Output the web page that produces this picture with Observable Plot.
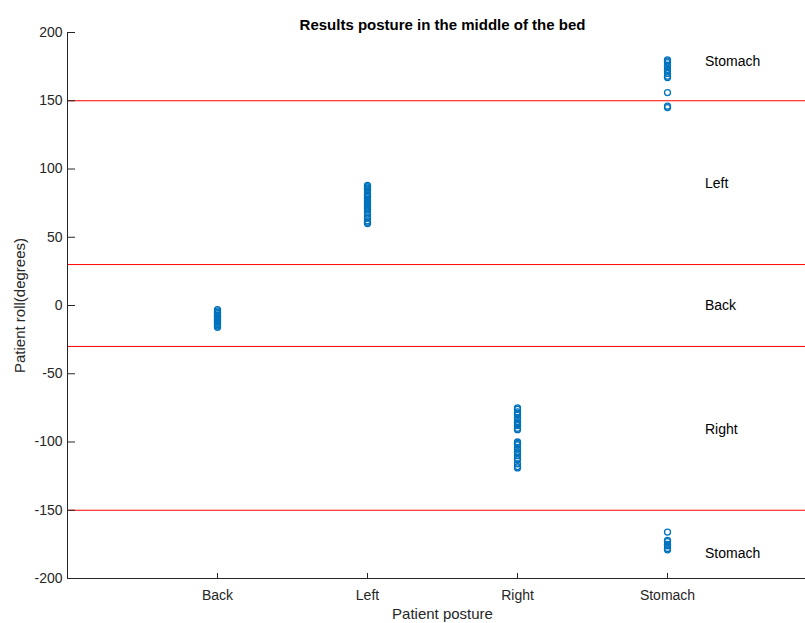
<!DOCTYPE html>
<html>
<head>
<meta charset="utf-8">
<script src="https://cdn.jsdelivr.net/npm/d3@7"></script>
<script src="https://cdn.jsdelivr.net/npm/@observablehq/plot@0.6"></script>
<style>
  html, body { margin: 0; padding: 0; background: #fff; }
</style>
</head>
<body>
<div id="chart"></div>
<script>
// ---- Data ----
const titleText = "Results posture in the middle of the bed";
const xLabel = "Patient posture";
const yLabel = "Patient roll(degrees)";

const categories = ["Back", "Left", "Right", "Stomach"];
const categoryPos = [1, 2, 3, 4];

const backValues = [-3, -4, -5, -5, -6, -7, -8, -8, -9, -10, -10, -11, -12, -12, -13, -14, -15, -16];
const leftValues = [60, 61, 62, 64, 65, 67, 68, 70, 71, 72, 73, 74, 75, 76, 77, 78, 79, 80, 81, 82, 84, 85, 86, 87, 88];
const rightValues = [-75, -76, -78, -79, -80, -82, -83, -85, -86, -87, -88, -90, -91,
                     -100, -101, -102, -104, -105, -107, -108, -110, -112, -113, -116, -118, -119];
const stomachValues = [180, 179, 178, 176, 175, 173, 172, 170, 168, 167, 156, 146, 145,
                       -166, -172, -173, -175, -176, -178, -179];

const thresholds = [150, 30, -30, -150];

const zoneLabels = ["Stomach", "Left", "Back", "Right", "Stomach"];
const zoneValues = [179, 89, 0, -91, -182];

const yTicks = [-200, -150, -100, -50, 0, 50, 100, 150, 200];

// ---- Build table ----
const seriesValues = [backValues, leftValues, rightValues, stomachValues];
const points = [];
seriesValues.forEach((vals, i) => vals.forEach(v => points.push({x: categoryPos[i], y: v})));
const zones = zoneLabels.map((t, i) => ({text: t, y: zoneValues[i]}));

const axisColor = "#262626";

const chart = Plot.plot({
  width: 805,
  height: 623,
  marginLeft: 67,
  marginRight: 0,
  marginTop: 32,
  marginBottom: 45,
  style: {fontFamily: "'Liberation Sans', Arial, sans-serif", fontSize: "14px", color: axisColor, background: "#fff"},
  x: {domain: [0, 4.92]},
  y: {domain: [-200, 200]},
  marks: [
    Plot.ruleY(thresholds, {stroke: "#ff0000", strokeWidth: 1}),
    Plot.dot(points, {x: "x", y: "y", r: 3, stroke: "#0072BD", strokeWidth: 1.3, fill: "none"}),
    Plot.text(zones, {x: 4.25, y: "y", text: "text", textAnchor: "start", fill: "#000", fontSize: 14}),
    // axis lines
    Plot.ruleX([0], {stroke: axisColor}),
    Plot.ruleY([-200], {stroke: axisColor}),
    // inward ticks
    Plot.tickY(yTicks, {stroke: axisColor, insetRight: 730}),
    Plot.tickX(categoryPos, {stroke: axisColor, insetTop: 541}),
    Plot.axisY({ticks: yTicks, tickSize: 0, tickPadding: 5, label: null, tickFormat: (d) => String(d), fontSize: 14}),
    Plot.axisX({ticks: categoryPos, tickFormat: (d) => categories[d - 1], tickSize: 0, tickPadding: 12, label: null, fontSize: 14}),
    // labels
    Plot.text([yLabel], {frameAnchor: "left", rotate: -90, textAnchor: "middle", dx: -47, fontSize: 15}),
    Plot.text([xLabel], {x: 2.5, frameAnchor: "bottom", textAnchor: "middle", dy: 40, fontSize: 15}),
    Plot.text([titleText], {x: 2.5, frameAnchor: "top", textAnchor: "middle", dy: -13, fontWeight: "bold", fontSize: 15, fill: "#000"})
  ]
});
document.getElementById("chart").appendChild(chart);
</script>
</body>
</html>
